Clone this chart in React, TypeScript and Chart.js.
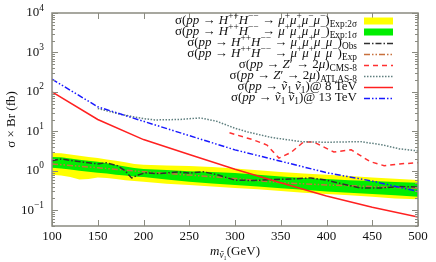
import React, { useEffect, useRef } from "react";
import { Chart, registerables } from "chart.js";

Chart.register(...registerables);

// ---------- data ----------
const bandMass = [100, 110, 120, 130, 140, 150, 160, 170, 180, 190, 200, 225, 250, 275, 300, 325, 350, 375, 400, 425, 450, 475, 500];
const yellowUp = [2.85, 2.8, 2.6, 2.4, 2.25, 2.1, 1.95, 1.8, 1.65, 1.5, 1.42, 1.36, 1.32, 1.25, 1.15, 1.03, 0.93, 0.86, 0.8, 0.74, 0.68, 0.63, 0.59];
const yellowDown = [0.8, 0.76, 0.7, 0.6, 0.62, 0.68, 0.66, 0.62, 0.58, 0.55, 0.53, 0.47, 0.44, 0.4, 0.37, 0.34, 0.31, 0.28, 0.26, 0.24, 0.22, 0.2, 0.19];
const greenUp = [2.25, 2.2, 2.05, 1.9, 1.8, 1.7, 1.55, 1.4, 1.28, 1.18, 1.12, 1.05, 0.98, 0.93, 0.88, 0.8, 0.72, 0.66, 0.62, 0.58, 0.55, 0.52, 0.5];
const greenDown = [1.2, 1.15, 1.08, 1.0, 0.95, 0.9, 0.85, 0.8, 0.76, 0.72, 0.7, 0.6, 0.53, 0.48, 0.44, 0.4, 0.36, 0.33, 0.3, 0.28, 0.26, 0.24, 0.22];

const expMass = [100, 150, 200, 250, 300, 350, 400, 450, 500];
const expVals = [1.5, 1.2, 0.95, 0.78, 0.64, 0.5, 0.44, 0.4, 0.36];

const obsMass = [100, 110, 120, 132, 140, 150, 159, 172, 180, 187, 195, 202, 216, 230, 238, 250, 265, 280, 300, 320, 340, 360, 383, 400, 420, 437, 460, 480, 500];
const obsVals = [1.8, 2.0, 1.85, 1.69, 1.6, 1.5, 1.6, 1.34, 1.0, 0.66, 0.8, 0.89, 0.85, 0.9, 0.94, 0.88, 0.95, 0.8, 0.58, 0.57, 0.6, 0.62, 0.66, 0.58, 0.45, 0.37, 0.37, 0.4, 0.39];

const cmsMass = [294, 320, 335, 348, 361, 375, 386, 408, 427, 448, 463, 480, 500];
const cmsVals = [9.2, 6.1, 4.5, 2.1, 2.9, 5.4, 5.4, 3.0, 3.4, 1.7, 1.35, 1.5, 1.6];

const atlasMass = [150, 175, 200, 213, 240, 262, 280, 300, 315, 340, 372, 400, 437, 460, 480, 500];
const atlasVals = [38, 27, 21, 19.5, 20, 22, 18, 12, 9.5, 7, 5.5, 5.3, 5.5, 4.6, 3.6, 3.2];

const snuMass = [100, 150, 200, 250, 300, 350, 400, 450, 500];
const snu8Vals = [100, 20, 6.2, 2.6, 1.1, 0.5, 0.23, 0.12, 0.068];
const snu13Vals = [210, 42, 18, 7.8, 3.4, 1.75, 0.9, 0.55, 0.3];

const xTicks = [100, 150, 200, 250, 300, 350, 400, 450, 500];
const yDecades = [-1, 0, 1, 2, 3, 4];

const legendLabels = [
  "σ(*pp* → *H*^{++}*H*^{−−} → *μ*^{+}*μ*^{+}*μ*^{−}*μ*^{−})_{Exp:2σ}",
  "σ(*pp* → *H*^{++}*H*^{−−} → *μ*^{+}*μ*^{+}*μ*^{−}*μ*^{−})_{Exp:1σ}",
  "σ(*pp* → *H*^{++}*H*^{−−} → *μ*^{+}*μ*^{+}*μ*^{−}*μ*^{−})_{Obs}",
  "σ(*pp* → *H*^{++}*H*^{−−} → *μ*^{+}*μ*^{+}*μ*^{−}*μ*^{−})_{Exp}",
  "σ(*pp* → *Z*′ → 2*μ*)_{CMS-8}",
  "σ(*pp* → *Z*′ → 2*μ*)_{ATLAS-8}",
  "σ(*pp* → *ṽ*_{1} *ṽ*_{1})@ 8 TeV",
  "σ(*pp* → *ṽ*_{1} *ṽ*_{1})@ 13 TeV",
];
const xTitle = "*m*_{*ṽ*₁}(GeV)";
const yTitle = "σ × Br (fb)";

// ---------- styles ----------
const YELLOW = "#ffff00";
const GREEN = "#00ee00";
const OBS = "#303030";
const EXP = "#c8703c";
const CMS = "#ff3030";
const ATLAS = "#5f7f7f";
const RED = "#ff2020";
const BLUE = "#1818ff";
const FONT = '"Liberation Serif", "DejaVu Serif", serif';

type Seg = { t: string; it: boolean; lv: number };
function parseRich(s: string): Seg[] {
  const segs: Seg[] = [];
  let it = false;
  let lv = 0;
  let cur = "";
  const push = () => {
    if (cur) segs.push({ t: cur, it, lv });
    cur = "";
  };
  for (let i = 0; i < s.length; i++) {
    const c = s[i];
    if (c === "*") { push(); it = !it; continue; }
    if ((c === "^" || c === "_") && s[i + 1] === "{") { push(); lv = c === "^" ? 1 : -1; i++; continue; }
    if (c === "}" && lv !== 0) { push(); lv = 0; continue; }
    cur += c;
  }
  push();
  return segs;
}

function drawRich(ctx: CanvasRenderingContext2D, s: string, x: number, y: number, size: number, align: "right" | "center") {
  const segs = parseRich(s);
  const sub = size * 0.72;
  const fontOf = (g: Seg) => `${g.it ? "italic " : ""}${g.lv === 0 ? size : sub}px ${FONT}`;
  let total = 0;
  const widths = segs.map((g) => { ctx.font = fontOf(g); const w = ctx.measureText(g.t).width; total += w; return w; });
  let cx = align === "right" ? x - total : x - total / 2;
  ctx.textBaseline = "middle";
  ctx.textAlign = "left";
  segs.forEach((g, i) => {
    ctx.font = fontOf(g);
    const dy = g.lv === 1 ? -size * 0.38 : g.lv === -1 ? size * 0.3 : 0;
    ctx.fillText(g.t, cx, y + dy);
    cx += widths[i];
  });
}

const toXY = (xs: number[], ys: number[]) => xs.map((x, i) => ({ x, y: ys[i] }));

const overlayPlugin = {
  id: "overlay",
  afterDatasetsDraw(chart: any) {
    const ctx: CanvasRenderingContext2D = chart.ctx;
    const { left, right, top, bottom } = chart.chartArea;
    const xs = chart.scales.x;
    const ys = chart.scales.y;
    ctx.save();
    ctx.strokeStyle = "#8a8a80";
    ctx.lineWidth = 1.5;
    ctx.strokeRect(left, top, right - left, bottom - top);
    ctx.lineWidth = 1;
    xTicks.forEach((v) => {
      const px = Math.round(xs.getPixelForValue(v)) + 0.5;
      ctx.beginPath();
      ctx.moveTo(px, bottom); ctx.lineTo(px, bottom - 6);
      ctx.moveTo(px, top); ctx.lineTo(px, top + 6);
      ctx.stroke();
    });
    for (let d = -2; d <= 4; d++) {
      for (let k = 1; k <= 9; k++) {
        const v = k * Math.pow(10, d);
        if (v < ys.min - 1e-12 || v > ys.max * 1.0001) continue;
        const py = Math.round(ys.getPixelForValue(v)) + 0.5;
        const len = k === 1 ? 6 : 3;
        ctx.beginPath();
        ctx.moveTo(left, py); ctx.lineTo(left + len, py);
        ctx.moveTo(right, py); ctx.lineTo(right - len, py);
        ctx.stroke();
      }
    }
    ctx.fillStyle = "#111";
    yDecades.forEach((d) => {
      const py = ys.getPixelForValue(Math.pow(10, d));
      drawRich(ctx, `10^{${d < 0 ? "−" + -d : d}}`, left - 8, py, 13, "right");
    });
    ctx.restore();
  },
  afterDraw(chart: any) {
    const ctx: CanvasRenderingContext2D = chart.ctx;
    const { left, right, bottom } = chart.chartArea;
    ctx.save();
    ctx.fillStyle = "#111";
    drawRich(ctx, xTitle, (left + right) / 2, bottom + 26, 13, "center");
    const textRight = 357;
    const sx0 = 364;
    const sx1 = 393;
    legendLabels.forEach((lab, i) => {
      const y = 21 + i * 11;
      ctx.fillStyle = "#111";
      drawRich(ctx, lab, textRight, y, 13, "right");
      if (i < 2) {
        ctx.fillStyle = i === 0 ? YELLOW : GREEN;
        ctx.fillRect(sx0, y - 3.5, sx1 - sx0, 7);
      } else {
        const styles: [string, number[], number][] = [
          [OBS, [6, 2, 1.5, 2], 1.5],
          [EXP, [6, 2, 1.5, 2, 1.5, 2], 1.5],
          [CMS, [5, 4], 1.5],
          [ATLAS, [1.5, 1.5], 1.5],
          [RED, [], 1.5],
          [BLUE, [6, 2, 1.5, 2, 1.5, 2], 1.5],
        ];
        const [col, dash, w] = styles[i - 2];
        ctx.strokeStyle = col;
        ctx.lineWidth = w;
        ctx.setLineDash(dash);
        ctx.beginPath();
        ctx.moveTo(sx0, y + 0.5);
        ctx.lineTo(sx1, y + 0.5);
        ctx.stroke();
        ctx.setLineDash([]);
      }
    });
    ctx.restore();
  },
};

export default function App() {
  const ref = useRef<HTMLCanvasElement>(null);
  useEffect(() => {
    if (!ref.current) return;
    const line = (data: any, color: string, dash: number[], order: number) => ({
      data, borderColor: color, borderDash: dash, borderWidth: 1.5, pointRadius: 0, fill: false, tension: 0, order,
    });
    const chart = new Chart(ref.current, {
      type: "line",
      data: {
        datasets: [
          { data: toXY(bandMass, yellowUp), borderWidth: 0, pointRadius: 0, backgroundColor: YELLOW, fill: "+1", order: 20 },
          { data: toXY(bandMass, yellowDown), borderWidth: 0, pointRadius: 0, fill: false, order: 20 },
          { data: toXY(bandMass, greenUp), borderWidth: 0, pointRadius: 0, backgroundColor: GREEN, fill: "+1", order: 10 },
          { data: toXY(bandMass, greenDown), borderWidth: 0, pointRadius: 0, fill: false, order: 10 },
          line(toXY(expMass, expVals), EXP, [6, 2, 1.5, 2, 1.5, 2], 6),
          line(toXY(obsMass, obsVals), OBS, [6, 2, 1.5, 2], 5),
          line(toXY(cmsMass, cmsVals), CMS, [5, 4], 4),
          line(toXY(atlasMass, atlasVals), ATLAS, [1.5, 1.5], 3),
          line(toXY(snuMass, snu8Vals), RED, [], 2),
          line(toXY(snuMass, snu13Vals), BLUE, [6, 2, 1.5, 2, 1.5, 2], 1),
        ] as any,
      },
      options: {
        animation: false,
        responsive: false,
        devicePixelRatio: 1,
        layout: { padding: { top: 13, right: 18, left: 0, bottom: 0 } },
        plugins: { legend: { display: false }, tooltip: { enabled: false } },
        scales: {
          x: {
            type: "linear",
            min: 100,
            max: 500,
            grid: { display: false, drawTicks: false },
            border: { display: false },
            ticks: {
              stepSize: 50,
              padding: 3,
              maxRotation: 0,
              color: "#111",
              font: { family: FONT, size: 13 },
            },
            afterFit: (s: any) => { s.height = 36; },
          },
          y: {
            type: "logarithmic",
            min: 0.04,
            max: 10000,
            grid: { display: false, drawTicks: false },
            border: { display: false },
            ticks: { display: false },
            title: {
              display: true,
              text: yTitle,
              color: "#111",
              font: { family: FONT, size: 13 },
              padding: { top: 4, bottom: 0 },
            },
            afterFit: (s: any) => { s.width = 52; },
          },
        },
      },
      plugins: [overlayPlugin],
    });
    return () => chart.destroy();
  }, []);
  return (
    <div style={{ position: "absolute", left: 0, top: 0, width: 436, height: 262, background: "#fff" }}>
      <canvas ref={ref} width={436} height={262} style={{ width: 436, height: 262, display: "block" }} />
    </div>
  );
}
